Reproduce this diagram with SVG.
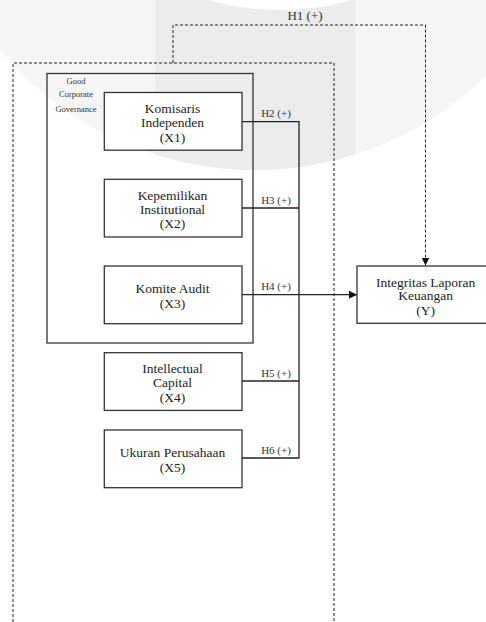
<svg xmlns="http://www.w3.org/2000/svg" width="486" height="622" viewBox="0 0 486 622">
<defs>
<style>
.box{fill:#fff;stroke:#333;stroke-width:1.3}
.t{font-family:"Liberation Serif","Times New Roman",serif;font-size:13.5px;fill:#222;text-anchor:middle}
.s{font-family:"Liberation Serif","Times New Roman",serif;font-size:8.5px;fill:#333;text-anchor:middle}
.h{font-family:"Liberation Serif","Times New Roman",serif;font-size:11px;fill:#333;text-anchor:middle}
.ln{fill:none;stroke:#222;stroke-width:1.3}
.dash{fill:none;stroke:#222;stroke-width:1;stroke-dasharray:3 2}
</style>
<marker id="arr" viewBox="0 0 10 10" refX="10" refY="5" markerWidth="8" markerHeight="8" markerUnits="userSpaceOnUse" orient="auto">
<path d="M0,0 L10,5 L0,10 z" fill="#111"/>
</marker>
<clipPath id="wm"><circle cx="255" cy="-160" r="330"/></clipPath>
</defs>
<rect width="486" height="622" fill="#fff"/>
<g id="watermark">
<circle cx="255" cy="-160" r="330" fill="#f5f5f5"/>
<rect x="155" y="0" width="200" height="200" fill="#ececec" clip-path="url(#wm)"/>
<circle cx="280" cy="-254" r="264" fill="#fff"/>
</g>
<g id="connectors">
<path class="dash" d="M13,622 V63 H334 V622"/>
<path class="dash" d="M173,63 V25 H425.5 V265.5" marker-end="url(#arr)"/>
<path class="ln" d="M242,121.7 H299 V458 H242"/>
<path class="ln" d="M242,208 H299"/>
<path class="ln" d="M242,381 H299"/>
<path class="ln" d="M242,294.7 H357" marker-end="url(#arr)"/>
<text class="h" x="305" y="20" style="font-size:13px">H1 (+)</text>
<text class="h" x="276" y="116.5">H2 (+)</text>
<text class="h" x="276" y="203.5">H3 (+)</text>
<text class="h" x="276" y="290">H4 (+)</text>
<text class="h" x="276" y="376.5">H5 (+)</text>
<text class="h" x="276" y="453.5">H6 (+)</text>
</g>
<g id="gcg">
<rect class="box" x="47" y="73.5" width="206" height="269.5" style="fill:none"/>
<text class="s" x="76" y="83.5">Good</text>
<text class="s" x="76" y="97">Corporate</text>
<text class="s" x="76" y="111.5">Governance</text>
</g>
<g id="x1">
<rect class="box" x="104.3" y="92.5" width="137.7" height="57.7"/>
<text class="t" x="172.5" y="112.5">Komisaris</text>
<text class="t" x="172.5" y="126.5">Independen</text>
<text class="t" x="172.5" y="141.5">(X1)</text>
</g>
<g id="x2">
<rect class="box" x="104.3" y="179.3" width="137.7" height="57.7"/>
<text class="t" x="172.5" y="199.5">Kepemilikan</text>
<text class="t" x="172.5" y="213.5">Institutional</text>
<text class="t" x="172.5" y="228">(X2)</text>
</g>
<g id="x3">
<rect class="box" x="104.3" y="266" width="137.7" height="57.7"/>
<text class="t" x="172.5" y="293">Komite Audit</text>
<text class="t" x="172.5" y="307.5">(X3)</text>
</g>
<g id="x4">
<rect class="box" x="104.3" y="352.7" width="137.7" height="57.7"/>
<text class="t" x="172.5" y="373">Intellectual</text>
<text class="t" x="172.5" y="386.5">Capital</text>
<text class="t" x="172.5" y="401.5">(X4)</text>
</g>
<g id="x5">
<rect class="box" x="104.3" y="430" width="137.7" height="57.7"/>
<text class="t" x="172.5" y="457">Ukuran Perusahaan</text>
<text class="t" x="172.5" y="471.5">(X5)</text>
</g>
<g id="y">
<rect class="box" x="357" y="266" width="130" height="57.3"/>
<text class="t" x="425.7" y="286.5">Integritas Laporan</text>
<text class="t" x="425.7" y="300">Keuangan</text>
<text class="t" x="425.7" y="314.5">(Y)</text>
</g>
</svg>
